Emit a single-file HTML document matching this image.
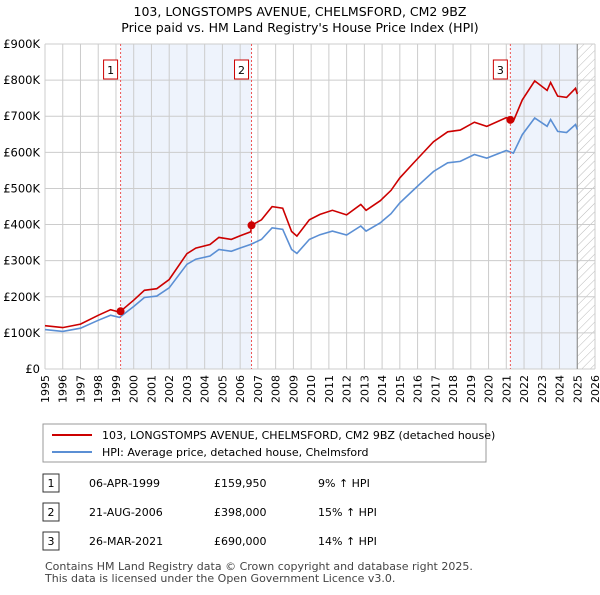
<!DOCTYPE html>
<html><head><meta charset="utf-8"><style>
body{margin:0;background:#fff;font-family:"Liberation Sans","DejaVu Sans",sans-serif;}
svg text{font-family:"DejaVu Sans","Liberation Sans",sans-serif;}
</style></head><body>
<svg id="c" width="600" height="590" xmlns="http://www.w3.org/2000/svg">
<defs><pattern id="h" width="6" height="6" patternUnits="userSpaceOnUse" patternTransform="rotate(45)"><line x1="0" y1="0" x2="0" y2="6" stroke="#bbb" stroke-width="1"/></pattern></defs>
<text x="300" y="16" text-anchor="middle" font-size="12.5">103, LONGSTOMPS AVENUE, CHELMSFORD, CM2 9BZ</text>
<text x="300" y="32" text-anchor="middle" font-size="12.5">Price paid vs. HM Land Registry's House Price Index (HPI)</text>
<g id="plot"></g>
<rect x="43" y="424" width="443" height="38" fill="#fff" stroke="#999"/>
<line x1="52" y1="435" x2="92" y2="435" stroke="#cc0000" stroke-width="2"/>
<text x="102" y="439" font-size="11">103, LONGSTOMPS AVENUE, CHELMSFORD, CM2 9BZ (detached house)</text>
<line x1="52" y1="452" x2="92" y2="452" stroke="#5b8fd4" stroke-width="2"/>
<text x="102" y="456" font-size="11">HPI: Average price, detached house, Chelmsford</text>
<g id="tbl" font-size="11"></g>
<text x="45" y="570" font-size="11" fill="#444">Contains HM Land Registry data © Crown copyright and database right 2025.</text>
<text x="45" y="582" font-size="11" fill="#444">This data is licensed under the Open Government Licence v3.0.</text>
</svg>
<script>
const hpiYears=[1995,1996,1997,1998,1998.7,1999.2,2000,2000.6,2001.3,2002,2003,2003.5,2004.3,2004.8,2005.5,2006,2006.6,2007.2,2007.8,2008.4,2008.9,2009.2,2009.9,2010.5,2011.2,2012,2012.8,2013.1,2013.9,2014.5,2015,2015.8,2016.3,2016.9,2017.7,2018.4,2019.2,2019.9,2021,2021.4,2021.9,2022.6,2023.3,2023.5,2023.9,2024.4,2024.9,2025];
const hpiValues=[109,104,113,135,149,143,173,198,202,225,290,304,313,331,326,335,345,359,391,387,331,320,359,372,382,371,396,382,405,430,460,497,520,547,571,575,594,584,605,598,649,695,672,691,658,655,677,663];
const saleYears=[1999.26,2006.64,2021.23];
const salePrices=[159950,398000,690000];
const saleLabels=["1","2","3"];
const saleDates=["06-APR-1999","21-AUG-2006","26-MAR-2021"];
const salePriceText=["£159,950","£398,000","£690,000"];
const saleHpiText=["9% ↑ HPI","15% ↑ HPI","14% ↑ HPI"];
const yTicks=[0,100,200,300,400,500,600,700,800,900];
const yTickLabels=["£0","£100K","£200K","£300K","£400K","£500K","£600K","£700K","£800K","£900K"];

const X0=45,X1=595,Y0=369,Y1=44;
const xs=y=>X0+(y-1995)/(2026-1995)*(X1-X0);
const ys=v=>Y0-v/900*(Y0-Y1);
const NS="http://www.w3.org/2000/svg";
const plot=document.getElementById('plot');
function mk(tag,attrs,parent){const e=document.createElementNS(NS,tag);for(const k in attrs)e.setAttribute(k,attrs[k]);(parent||plot).appendChild(e);return e;}
function hpiAt(t){for(let i=0;i<hpiYears.length-1;i++){if(t>=hpiYears[i]&&t<=hpiYears[i+1]){const f=(t-hpiYears[i])/(hpiYears[i+1]-hpiYears[i]);return hpiValues[i]+f*(hpiValues[i+1]-hpiValues[i]);}}return hpiValues[hpiValues.length-1];}

// shaded
for(let i=0;i<saleYears.length;i++){
  const end=i===0?saleYears[1]:(i===2?2025:null);
  if(end===null)continue;
  const r=mk('rect',{x:xs(saleYears[i]),y:Y1,width:xs(end)-xs(saleYears[i]),height:Y0-Y1,fill:'#eef3fc'});
  
  
}
const hatch=mk('rect',{x:xs(2025),y:Y1,width:X1-xs(2025),height:Y0-Y1,fill:'url(#h)'});


// grid
for(let yr=1995;yr<=2026;yr++){
  const l=mk('line',{x1:xs(yr),x2:xs(yr),y1:Y1,y2:Y0,stroke:'#ccc','stroke-width':1});
  
  
  const t=mk('text',{x:0,y:0,'font-size':11,'text-anchor':'end',transform:`translate(${xs(yr)+4},${Y0+6}) rotate(-90)`});
  t.textContent=yr;
  
  
}
yTicks.forEach((v,i)=>{
  const l=mk('line',{x1:X0,x2:X1,y1:ys(v),y2:ys(v),stroke:'#ccc','stroke-width':1});
  
  
  const t=mk('text',{x:40,y:ys(v)+4,'font-size':11.5,'text-anchor':'end'});
  t.textContent=yTickLabels[i];
  
  
});
mk('line',{x1:xs(2025),x2:xs(2025),y1:Y1,y2:Y0,stroke:'#888','stroke-width':1});
// series
const hp=hpiYears.map((y,i)=>xs(y).toFixed(1)+','+ys(hpiValues[i]).toFixed(1)).join(' ');
const hl=mk('polyline',{points:hp,fill:'none',stroke:'#5b8fd4','stroke-width':1.6});


function segOf(t){let s=0;for(let i=0;i<saleYears.length;i++)if(t>=saleYears[i])s=i;return s;}
const pts=[];
const allT=hpiYears.concat(saleYears).sort((a,b)=>a-b);
allT.forEach(t=>{const s=segOf(t);const v=salePrices[s]/1000*hpiAt(t)/hpiAt(saleYears[s]);pts.push(xs(t).toFixed(1)+','+ys(v).toFixed(1));});
const pl=mk('polyline',{points:pts.join(' '),fill:'none',stroke:'#cc0000','stroke-width':1.6});


// sale markers
saleYears.forEach((t,i)=>{
  const vl=mk('line',{x1:xs(t),x2:xs(t),y1:Y1,y2:Y0,stroke:'#e55','stroke-width':1,'stroke-dasharray':'2,2'});
  
  
  const c=mk('circle',{cx:xs(t),cy:ys(salePrices[i]/1000),r:4,fill:'#cc0000'});
  
  
  const b=mk('rect',{x:xs(t)-17,y:60,width:14,height:19,fill:'#fff',stroke:'#cc0000'});
  
  
  const bt=mk('text',{x:xs(t)-10,y:74,'font-size':11,'text-anchor':'middle'});
  bt.textContent=saleLabels[i];
  
  
});
// table
const tbl=document.getElementById('tbl');
const rowY=[487,516,545];
saleYears.forEach((t,i)=>{
  const b=mk('rect',{x:43,y:rowY[i]-13,width:16,height:18,fill:'#fff',stroke:'#333'},tbl);
  
  
  const cells=[[51,saleLabels[i],'middle'],[89,saleDates[i],'start'],[214,salePriceText[i],'start'],[318,saleHpiText[i],'start']];
  cells.forEach(([x,txt,a],j)=>{
    const e=mk('text',{x:x,y:rowY[i],'text-anchor':a},tbl);
    e.textContent=txt;
    
    
  });
});
</script>
</body></html>
